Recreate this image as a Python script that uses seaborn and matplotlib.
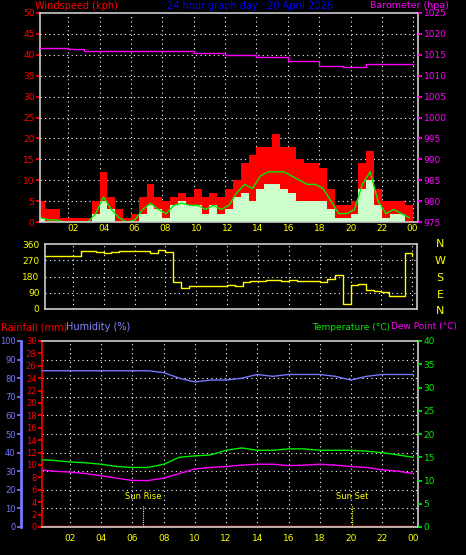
import numpy as np
import matplotlib
matplotlib.use("Agg")
import matplotlib.pyplot as plt
import seaborn as sns
import pandas as pd

sns.set_theme(style="dark")
plt.rcParams['font.family'] = ['DejaVu Sans']

half_hours = np.arange(0, 24, 0.5)
gust = [5,3,3,1,1,1,1,5,12,6,3,1,2,6,9,6,5,6,7,6,8,6,7,6,8,10,14,16,18,18,21,18,18,15,14,14,13,8,4,4,5,14,17,8,5,5,5,4]
avg = [1,0.5,0.5,0,0,0,0,2,6,3,1,0,0.5,3,4.5,3,2,4,4.5,4,4,3,4,3,4,7,9,8,11,12,12,12,11,10,9,9,8,5,2,2,3,9,12,5,2,3,2,1]
lull = [1,0,0,0,0,0,0,2,5,3,0,0,0,2,4,3,1,4,5,4,4,2,4,2,3,6,7,5,8,9,9,8,7,5,5,5,5,3,1,1,2,8,10,4,1,2,2,0]
baro_hours = [0,2,3,6,10,12,14,16,18,19.5,21,24]
baro = [1016.7,1016.5,1016.0,1015.8,1015.5,1015.0,1014.5,1013.5,1012.3,1012.0,1012.8,1012.5]
direction = [295,295,295,295,295,320,320,315,310,315,320,320,320,320,310,325,315,150,115,125,125,130,130,130,135,130,150,155,155,160,160,155,160,155,155,155,150,165,190,30,135,140,105,100,95,70,70,310]
hours = np.arange(0, 25, 1)
humidity = [84,84,84,84,84,84,84,84,83,80,78,79,79,80,82,81,82,82,82,81,79,81,82,82,82]
temperature = [14.5,14.3,14,13.8,13.5,13,12.8,12.8,13.5,15,15.3,15.5,16.5,17,16.5,16.5,16.8,16.8,16.5,16.5,16.5,16.3,16,15.5,15]
dewpoint = [12.3,12,11.8,11.5,11,10.5,10,10,10.5,11.5,12.5,12.8,13,13.3,13.5,13.5,13.2,13.3,13.5,13.3,13,12.8,12.3,12,11.5]
rainfall = [0]*25
xticks = [2,4,6,8,10,12,14,16,18,20,22,24]
xlabels = ["02","04","06","08","10","12","14","16","18","20","22","00"]
sunrise, sunset = 6.7, 20.1

W, H = 4.66, 5.55
fig = plt.figure(figsize=(W, H), dpi=100, facecolor="black")
XL = (0.2, 24.3)
FS = 6.5
HF = 7
GRID = dict(color="white", linestyle=(0, (1, 3)), linewidth=0.8)

def style(ax):
    ax.set_facecolor("black")
    for s in ax.spines.values():
        s.set_color("#cccccc"); s.set_linewidth(1.2)
    ax.set_xlim(*XL)
    ax.set_xticks(xticks)
    ax.grid(False)
    for x in xticks:
        ax.axvline(x, **GRID, zorder=0)
    ax.set_xlabel(""); ax.set_ylabel("")

# --- wind panel
ax1 = fig.add_axes([40/466, 1-222/555, 378/466, 209/555])
style(ax1)
hx = np.append(half_hours, 24)
ax1.fill_between(hx, np.append(gust, gust[-1]), step="post", color="red", lw=0)
ax1.fill_between(hx, np.append(lull, lull[-1]), step="post", color="#ccffcc", lw=0)
sns.lineplot(x=half_hours + 0.25, y=avg, ax=ax1, color="#00ee00", lw=1, legend=False)
ax1.set_ylim(0, 50)
ax1.set_yticks(range(0, 51, 5))
for y in range(5, 50, 5):
    ax1.axhline(y, **GRID, zorder=0)
ax1.tick_params(axis="y", colors="red", labelsize=FS, length=3, pad=1)
ax1.tick_params(axis="x", labelbottom=False, length=3, colors="#cccccc")
ax1.set_xlabel(""); ax1.set_ylabel("")
ax1b = ax1.twinx()
sns.lineplot(x=baro_hours, y=baro, ax=ax1b, color="magenta", lw=1, drawstyle="steps-post")
ax1b.set_ylim(975, 1025)
ax1b.set_yticks(range(975, 1026, 5))
ax1b.tick_params(axis="y", colors="magenta", labelsize=FS, length=3, pad=1)
ax1b.set_ylabel("")
for s in ax1b.spines.values():
    s.set_visible(False)
fig.text(35/466, 1-6/555, "Windspeed (kph)", color="red", fontsize=HF, va="center")
fig.text(250/466, 1-6/555, "24 hour graph day : 20 April 2026", color="#0000ff", fontsize=HF, va="center", ha="center")
fig.text(370/466, 1-5/555, "Barometer (hpa)", color="magenta", fontsize=6.8, va="center")

# --- direction panel
ax2 = fig.add_axes([45/466, 1-309/555, 372/466, 65/555])
style(ax2)
sns.lineplot(x=np.append(half_hours, 24), y=direction + [295], ax=ax2, color="yellow", lw=1, drawstyle="steps-post")
ax2.set_ylim(0, 360)
ax2.set_yticks([0, 90, 180, 270, 360])
for y in [90, 180, 270]:
    ax2.axhline(y, **GRID, zorder=0)
ax2.set_ylabel("")
ax2.tick_params(axis="y", colors="yellow", labelsize=FS, length=3, pad=1)
ax2.tick_params(axis="x", labelbottom=False, labeltop=True, top=False, bottom=False, colors="yellow", labelsize=FS, pad=2)
ax2.set_xticklabels(xlabels)
for lab, yp in zip("NWSEN", [244, 261, 278, 295, 311]):
    fig.text(440/466, 1-yp/555, lab, color="yellow", fontsize=8, ha="center", va="center")

# --- lower panel
ax3 = fig.add_axes([42/466, 1-527/555, 376/466, 186/555])
style(ax3)
ax3.spines["left"].set_color("red")
sns.lineplot(x=hours, y=rainfall, ax=ax3, color="red", lw=2.5)
ax3.set_ylim(0, 30)
ax3.set_yticks(range(0, 31, 2))
ax3.set_ylabel("")
ax3.tick_params(axis="y", colors="red", labelsize=FS-0.5, length=3, pad=1)
ax3.tick_params(axis="x", colors="#cccccc", labelcolor="yellow", labelsize=FS, length=3, pad=2)
ax3.set_xticklabels(xlabels)
for y in np.arange(3, 30, 3):
    ax3.axhline(y, **GRID, zorder=0)
ax3.axvline(sunrise, ymax=0.12, color="yellow", linestyle=(0, (1, 1)), lw=0.8)
ax3.axvline(sunset, ymax=0.12, color="yellow", linestyle=(0, (1, 1)), lw=0.8)
ax3.text(sunrise, 4.5, "Sun Rise", color="yellow", fontsize=6, ha="center")
ax3.text(sunset, 4.5, "Sun Set", color="yellow", fontsize=6, ha="center")

axh = ax3.twinx()
sns.lineplot(x=hours, y=humidity, ax=axh, color="#7777ff", lw=1)
axh.set_ylim(0, 100)
axh.set_yticks(range(0, 101, 10))
axh.set_ylabel("")
axh.yaxis.set_ticks_position("left")
axh.yaxis.set_label_position("left")
axh.spines["left"].set_visible(True)
axh.spines["left"].set_position(("outward", 15))
axh.spines["left"].set_color("#7777ff"); axh.spines["left"].set_linewidth(2)
for k in ["right", "top", "bottom"]:
    axh.spines[k].set_visible(False)
axh.tick_params(axis="y", colors="#7777ff", labelsize=FS-0.5, length=3, pad=1)

axt = ax3.twinx()
sns.lineplot(x=hours, y=temperature, ax=axt, color="#00ee00", lw=1)
sns.lineplot(x=hours, y=dewpoint, ax=axt, color="magenta", lw=1)
axt.set_ylim(0, 40)
axt.set_yticks(range(0, 41, 5))
axt.set_ylabel("")
for s in axt.spines.values():
    s.set_visible(False)
axt.tick_params(axis="y", colors="#00ee00", labelsize=FS, length=3, pad=1)

fig.text(0.002, 1-327/555, "Rainfall (mm)", color="red", fontsize=HF, va="center")
fig.text(66/466, 1-327/555, "Humidity (%)", color="#8888ff", fontsize=HF, va="center")
fig.text(312/466, 1-327/555, "Temperature (°C)", color="#00ee00", fontsize=6.5, va="center")
fig.text(391/466, 1-327/555, "Dew Point (°C)", color="magenta", fontsize=6.5, va="center")

fig.savefig("out.png", dpi=100, facecolor="black")
